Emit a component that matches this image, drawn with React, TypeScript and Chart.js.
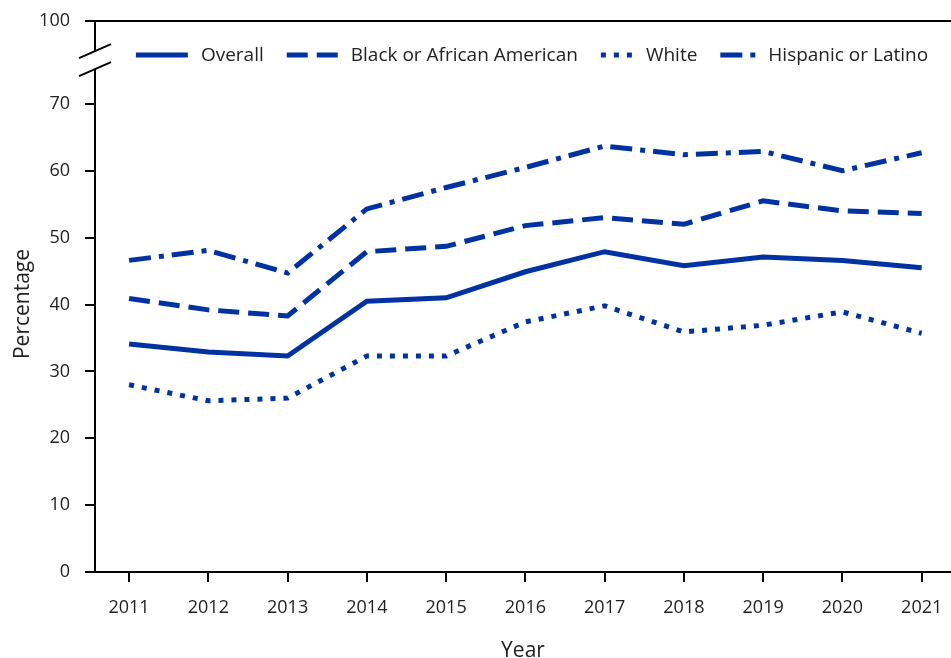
import { useEffect, useRef } from "react";
import { Chart, registerables } from "chart.js";

Chart.register(...registerables);

// ---- Data ----
const years = [2011, 2012, 2013, 2014, 2015, 2016, 2017, 2018, 2019, 2020, 2021];
const overall = [34.1, 32.9, 32.3, 40.5, 41.0, 44.9, 47.9, 45.8, 47.1, 46.6, 45.5];
const blackAA = [40.9, 39.2, 38.3, 47.9, 48.7, 51.8, 53.0, 52.0, 55.5, 54.0, 53.6];
const white = [28.0, 25.6, 26.0, 32.3, 32.3, 37.4, 39.8, 35.9, 36.9, 38.9, 35.7];
const hispanic = [46.6, 48.1, 44.7, 54.3, 57.5, 60.5, 63.7, 62.4, 62.9, 60.0, 62.7];
const seriesNames = ["Overall", "Black or African American", "White", "Hispanic or Latino"];
const yTickValues = [0, 10, 20, 30, 40, 50, 60, 70];
// broken axis: the top tick sits at scale value 82.4 but is labelled "100"
const topTickValue = 82.4;
const topTickLabel = "100";
const breakUpper = 77.9;
const breakLower = 75.2;
const yAxisTitle = "Percentage";
const xAxisTitle = "Year";

const FONT = '"Open Sans", "Noto Sans", sans-serif';
const TEXT = "#222222";
const BLUE = "#0033a1";

const legendSampleWidths = [52, 51, 32, 35];

const brokenAxisPlugin = {
  id: "brokenAxis",
  afterDraw(chart: any) {
    const { ctx, chartArea, scales } = chart;
    const y = scales.y;
    const x0 = chartArea.left;
    const pTop = y.getPixelForValue(topTickValue);
    const pGapTop = y.getPixelForValue(breakUpper);
    const pGapBot = y.getPixelForValue(breakLower);
    const pBottom = y.getPixelForValue(0);
    ctx.save();
    ctx.strokeStyle = "#000";
    ctx.lineWidth = 2;
    ctx.setLineDash([]);
    ctx.beginPath();
    ctx.moveTo(x0, pTop - 1);
    ctx.lineTo(x0, pGapTop);
    ctx.moveTo(x0, pGapBot);
    ctx.lineTo(x0, pBottom + 1);
    for (const p of [pGapTop, pGapBot]) {
      ctx.moveTo(x0 - 16, p + 7);
      ctx.lineTo(x0 + 16, p - 7);
    }
    ctx.stroke();

    // y-axis title
    ctx.translate(23, 304);
    ctx.rotate(-Math.PI / 2);
    ctx.font = `21px ${FONT}`;
    ctx.fillStyle = TEXT;
    ctx.textAlign = "center";
    ctx.textBaseline = "middle";
    ctx.fillText(yAxisTitle, 0, 0);
    ctx.restore();
  },
};

const customLegendPlugin = {
  id: "customLegend",
  afterDraw(chart: any) {
    const { ctx } = chart;
    const datasets = chart.data.datasets;
    ctx.save();
    ctx.font = `19px ${FONT}`;
    const textGap = 13;
    const itemGap = 23;
    const widths = datasets.map(
      (ds: any, i: number) => legendSampleWidths[i] + textGap + ctx.measureText(ds.label).width
    );
    const total = widths.reduce((a: number, b: number) => a + b, 0) + itemGap * (datasets.length - 1);
    let x = 532 - total / 2;
    const yc = 55;
    datasets.forEach((ds: any, i: number) => {
      const w = legendSampleWidths[i];
      ctx.strokeStyle = ds.borderColor;
      ctx.lineWidth = ds.borderWidth;
      ctx.lineCap = "butt";
      ctx.setLineDash(ds.borderDash || []);
      ctx.beginPath();
      ctx.moveTo(x, yc);
      ctx.lineTo(x + w, yc);
      ctx.stroke();
      ctx.setLineDash([]);
      ctx.fillStyle = TEXT;
      ctx.textBaseline = "middle";
      ctx.textAlign = "left";
      ctx.fillText(ds.label, x + w + textGap, yc + 1);
      x += widths[i] + itemGap;
    });
    ctx.restore();
  },
};

const clearPadding = (scale: any) => {
  scale.paddingTop = 0;
  scale.paddingBottom = 0;
  scale.paddingLeft = 0;
  scale.paddingRight = 0;
};

export default function App() {
  const canvasRef = useRef<HTMLCanvasElement | null>(null);

  useEffect(() => {
    document.body.style.margin = "0";
    const canvas = canvasRef.current;
    if (!canvas) return;
    const mk = (values: number[]) => years.map((yr, i) => ({ x: yr, y: values[i] }));
    const base = {
      borderColor: BLUE,
      backgroundColor: BLUE,
      borderWidth: 5,
      pointRadius: 0,
      pointHoverRadius: 0,
      tension: 0,
      fill: false,
      borderCapStyle: "butt",
      borderJoinStyle: "miter",
    };
    const chart = new Chart(canvas, {
      type: "line",
      data: {
        datasets: [
          { ...base, label: seriesNames[0], data: mk(overall), borderDash: [] },
          { ...base, label: seriesNames[1], data: mk(blackAA), borderDash: [21, 9] },
          { ...base, label: seriesNames[2], data: mk(white), borderDash: [5, 8] },
          { ...base, label: seriesNames[3], data: mk(hispanic), borderDash: [22, 8, 5, 8] },
        ] as any,
      },
      options: {
        animation: false,
        responsive: false,
        maintainAspectRatio: false,
        devicePixelRatio: 1,
        layout: { autoPadding: false, padding: { top: 21, right: 0, left: 0, bottom: 0 } },
        plugins: {
          legend: { display: false },
          tooltip: { enabled: false },
          title: { display: false },
        },
        scales: {
          x: {
            type: "linear",
            min: 2010.57,
            max: 2021.37,
            afterBuildTicks: (scale: any) => {
              scale.ticks = years.map((v) => ({ value: v }));
            },
            afterFit: (scale: any) => {
              scale.height = 86;
              clearPadding(scale);
            },
            ticks: {
              callback: (v: any) => String(v),
              font: { family: FONT, size: 18 },
              color: TEXT,
              padding: 15,
              maxRotation: 0,
              autoSkip: false,
            },
            grid: {
              drawOnChartArea: false,
              drawTicks: true,
              tickLength: 10,
              tickColor: "#000",
              tickWidth: 2,
              lineWidth: 2,
            },
            border: { display: true, color: "#000", width: 2 },
            title: {
              display: true,
              text: xAxisTitle,
              color: TEXT,
              font: { family: FONT, size: 21, lineHeight: 0.7 },
              padding: { top: 0, bottom: 0 },
            },
          },
          y: {
            type: "linear",
            min: 0,
            max: topTickValue,
            afterBuildTicks: (scale: any) => {
              scale.ticks = [...yTickValues, topTickValue].map((v) => ({ value: v }));
            },
            afterFit: (scale: any) => {
              scale.width = 95;
              clearPadding(scale);
            },
            ticks: {
              callback: (v: any) => (v === topTickValue ? topTickLabel : String(v)),
              font: { family: FONT, size: 18 },
              color: TEXT,
              padding: 15,
              autoSkip: false,
            },
            grid: {
              drawOnChartArea: true,
              drawTicks: true,
              tickLength: 10,
              color: (c: any) =>
                c.tick && c.tick.value === topTickValue ? "#000" : "rgba(0,0,0,0)",
              tickColor: "#000",
              tickWidth: 2,
              lineWidth: 2,
            },
            border: { display: false },
            title: { display: false },
          },
        },
      } as any,
      plugins: [brokenAxisPlugin, customLegendPlugin],
    });
    return () => chart.destroy();
  }, []);

  return (
    <div style={{ position: "absolute", left: 0, top: 0, width: 951, height: 658, background: "#fff" }}>
      <canvas ref={canvasRef} width={951} height={658} style={{ width: 951, height: 658 }} />
    </div>
  );
}
